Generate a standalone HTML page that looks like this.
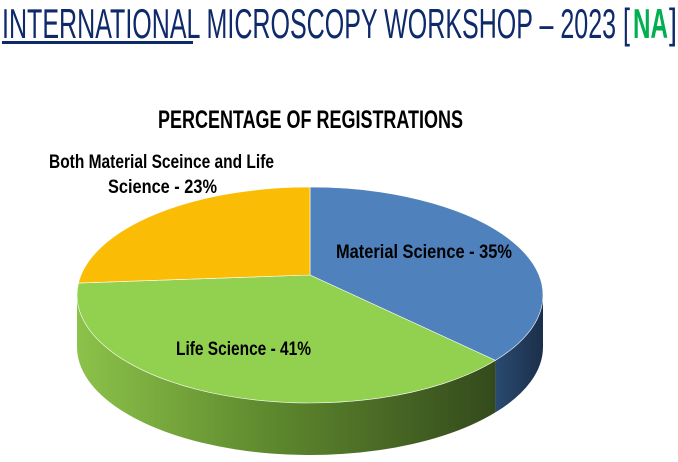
<!DOCTYPE html>
<html><head><meta charset="utf-8"><style>
html,body{margin:0;padding:0;background:#fff;width:678px;height:462px;overflow:hidden}
svg{display:block}
text{font-family:"Liberation Sans Narrow","Liberation Sans",sans-serif;font-weight:bold}
</style></head><body>
<svg id="chart" width="678" height="462" viewBox="0 0 678 462">
<defs>
<linearGradient id="gside" x1="0" x2="1" y1="0" y2="0">
<stop offset="0" stop-color="#8cc24a"/><stop offset="0.45" stop-color="#5f8a2e"/><stop offset="1" stop-color="#344a1c"/>
</linearGradient>
<linearGradient id="bside" x1="0" x2="1"><stop offset="0" stop-color="#2a4a70"/><stop offset="1" stop-color="#1b2f4a"/></linearGradient>
</defs>
<text x="2" y="38" font-size="42" fill="#0e2a6b" style="font-weight:normal" textLength="628" lengthAdjust="spacingAndGlyphs">INTERNATIONAL MICROSCOPY WORKSHOP – 2023 [</text>
<text x="633" y="38" font-size="42" fill="#00b050" textLength="35" lengthAdjust="spacingAndGlyphs">NA</text>
<text x="669" y="38" font-size="42" fill="#0e2a6b" style="font-weight:normal" textLength="8" lengthAdjust="spacingAndGlyphs">]</text>
<rect x="2" y="41" width="191" height="3" fill="#0e2a6b"/>
<text x="158" y="128" font-size="25" fill="#000" textLength="305" lengthAdjust="spacingAndGlyphs">PERCENTAGE OF REGISTRATIONS</text>
<g id="pie"></g>
<g id="labels"></g>
</svg>
<script>
const categories=["Material Science","Life Science","Both Material Sceince and Life Science"];
const values=[35,41,23];
const topColors=["#4f81bd","#92d050","#fbbc05"];
const sideFills=["url(#bside)","url(#gside)","#c89200"];
const cx=310,cy=295,rx=233,ry=108,depth=52,ax=310,ay=275;
const NS="http://www.w3.org/2000/svg";
const total=values.reduce((a,b)=>a+b,0);
function pt(deg,dy){const r=deg*Math.PI/180;return [cx+rx*Math.sin(r),cy-ry*Math.cos(r)+(dy||0)];}
const pie=document.getElementById('pie');
let angles=[];let a=0;
values.forEach(v=>{angles.push([a,a+v/total*360]);a+=v/total*360;});
angles.forEach((s,i)=>{
 const a1=Math.max(s[0],90),a2=Math.min(s[1],270);
 if(a2<=a1)return;
 const p1=pt(a1),p2=pt(a2),q2=pt(a2,depth),q1=pt(a1,depth);
 const d=`M${p1[0]},${p1[1]} A${rx},${ry} 0 0 1 ${p2[0]},${p2[1]} L${q2[0]},${q2[1]} A${rx},${ry} 0 0 0 ${q1[0]},${q1[1]} Z`;
 const p=document.createElementNS(NS,'path');
 p.setAttribute('d',d);p.setAttribute('fill',sideFills[i]);
 
 
 pie.appendChild(p);
});
angles.forEach((s,i)=>{
 const p1=pt(s[0]),p2=pt(s[1]);
 const large=(s[1]-s[0])>180?1:0;
 const d=`M${ax},${ay} L${p1[0]},${p1[1]} A${rx},${ry} 0 ${large} 1 ${p2[0]},${p2[1]} Z`;
 const p=document.createElementNS(NS,'path');
 p.setAttribute('d',d);p.setAttribute('fill',topColors[i]);
 p.setAttribute('stroke','#ffffff');p.setAttribute('stroke-width','0.6');
 
 
 pie.appendChild(p);
});
const labels=document.getElementById('labels');
function lab(str,x,y,w,name){const t=document.createElementNS(NS,'text');t.setAttribute('x',x);t.setAttribute('y',y);t.setAttribute('font-size','19');t.setAttribute('textLength',w);t.setAttribute('lengthAdjust','spacingAndGlyphs');t.textContent=str;


labels.appendChild(t);}
lab(categories[0]+" - "+values[0]+"%",336,258,176,'label-material');
lab(categories[1]+" - "+values[1]+"%",176,355,135,'label-life');
lab("Both Material Sceince and Life",49,168,225,'label-both-line1');
lab("Science - "+values[2]+"%",108,193,109,'label-both-line2');
</script>
</body></html>
